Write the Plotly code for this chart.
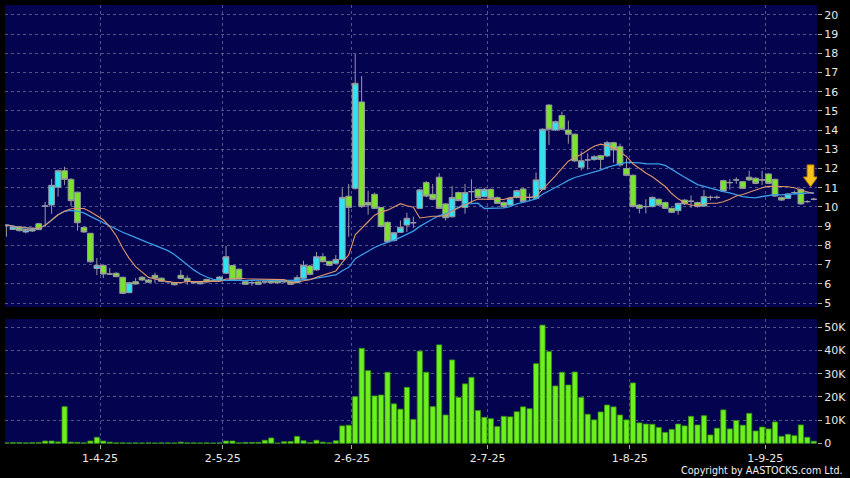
import pandas as pd
import plotly.graph_objects as go

# ---------------- data ----------------
holidays = ["2025-04-04", "2025-04-18", "2025-04-21", "2025-05-01", "2025-05-05", "2025-07-01"]
dates = pd.bdate_range("2025-03-11", "2025-09-10", freq="C", holidays=holidays)

opens = [9.05, 8.83, 8.97, 8.70, 8.75, 9.13, 10.05, 10.10, 11.03, 11.89,
         11.44, 10.77, 8.94, 8.63, 6.80, 6.96, 6.51, 6.55, 6.34, 5.54,
         6.11, 6.34, 6.20, 6.44, 6.29, 6.11, 6.06, 6.44, 6.29, 6.06,
         6.08, 6.23, 6.15, 6.16, 6.55, 6.95, 6.76, 6.11, 6.06, 6.10,
         6.10, 6.15, 6.17, 6.11, 6.11, 6.06, 6.29, 6.93, 6.72, 7.41,
         7.17, 7.07, 7.27, 10.56, 10.97, 15.47, 10.24, 10.66, 9.97, 9.20,
         8.25, 8.68, 9.06, 9.18, 9.93, 11.27, 10.66, 11.55, 10.16, 9.49,
         10.75, 9.98, 10.80, 10.92, 10.54, 10.92, 10.49, 10.24, 10.10, 10.50,
         10.94, 10.50, 10.45, 10.92, 15.31, 14.01, 14.76, 14.01, 13.79, 12.07,
         12.45, 12.48, 12.67, 12.66, 13.35, 13.14, 12.00, 11.65, 10.10, 10.02,
         10.02, 10.40, 10.23, 9.93, 9.81, 10.36, 10.30, 10.23, 10.05, 10.50,
         10.50, 11.37, 11.27, 11.41, 11.32, 11.55, 11.50, 11.41, 11.72, 11.44,
         10.50, 10.45, 10.75, 10.92, 10.28, 10.40]
highs = [9.10, 9.00, 9.00, 8.85, 8.88, 9.18, 10.27, 11.46, 11.95, 12.10,
         11.50, 10.80, 8.96, 8.65, 7.34, 6.98, 6.82, 6.60, 6.36, 6.10,
         6.30, 6.40, 6.25, 6.58, 6.33, 6.15, 6.08, 6.72, 6.44, 6.10,
         6.12, 6.26, 6.20, 6.40, 7.97, 6.98, 6.80, 6.14, 6.20, 6.13,
         6.14, 6.18, 6.20, 6.15, 6.13, 6.45, 7.20, 6.98, 7.66, 7.60,
         7.20, 7.50, 10.97, 11.20, 17.97, 16.82, 10.85, 10.75, 10.00, 9.25,
         8.70, 9.30, 9.70, 9.50, 10.95, 11.35, 11.20, 11.76, 10.20, 11.09,
         10.80, 11.20, 11.44, 10.96, 11.00, 10.96, 10.55, 10.28, 10.50, 10.90,
         10.98, 10.70, 11.80, 14.10, 15.35, 14.50, 14.97, 14.50, 13.83, 12.90,
         12.80, 12.70, 12.72, 13.45, 13.40, 13.30, 12.53, 11.70, 10.15, 10.40,
         10.55, 10.45, 10.28, 9.97, 10.22, 10.40, 10.60, 10.28, 10.89, 10.60,
         10.60, 11.42, 11.45, 11.55, 11.36, 11.89, 11.54, 11.89, 11.76, 11.48,
         10.54, 10.72, 10.85, 10.96, 10.35, 10.48]
lows = [8.45, 8.80, 8.72, 8.62, 8.70, 8.80, 8.95, 9.64, 10.54, 11.15,
        10.05, 8.77, 8.65, 7.10, 6.46, 6.30, 6.48, 6.35, 5.47, 5.50,
        5.95, 6.15, 6.05, 6.05, 6.10, 6.05, 5.92, 6.25, 5.95, 6.00,
        5.97, 6.05, 6.10, 6.12, 6.50, 6.18, 6.22, 5.95, 5.90, 5.95,
        6.05, 6.02, 6.02, 6.05, 5.95, 6.02, 6.25, 6.45, 6.68, 7.12,
        6.92, 7.03, 7.25, 8.45, 10.90, 9.95, 9.60, 9.90, 8.95, 8.15,
        8.20, 8.65, 8.70, 8.90, 9.90, 10.50, 10.35, 9.90, 9.30, 9.45,
        10.30, 9.65, 10.19, 10.45, 10.50, 10.40, 10.15, 9.95, 10.05, 10.45,
        10.25, 10.30, 10.40, 10.88, 13.23, 13.95, 14.00, 13.30, 12.35, 11.90,
        11.95, 12.40, 11.95, 12.60, 12.30, 12.10, 11.60, 9.98, 9.67, 9.67,
        9.98, 10.05, 9.90, 9.68, 9.60, 10.10, 9.95, 9.98, 10.00, 10.35,
        10.40, 10.78, 10.90, 11.20, 10.93, 11.37, 11.19, 11.15, 11.19, 10.53,
        10.32, 10.42, 10.65, 10.12, 10.22, 10.35]
closes = [9.05, 8.97, 8.77, 8.83, 8.83, 8.82, 10.05, 11.13, 11.89, 11.44,
          10.33, 9.18, 8.70, 7.15, 6.96, 6.51, 6.51, 6.37, 5.50, 6.06,
          5.99, 6.20, 6.08, 6.29, 6.13, 6.11, 5.95, 6.28, 6.13, 6.06,
          6.00, 6.09, 6.15, 6.35, 7.41, 6.20, 6.24, 5.97, 6.06, 5.97,
          6.10, 6.05, 6.05, 6.11, 5.97, 6.32, 6.96, 6.49, 7.41, 7.15,
          6.96, 7.27, 10.50, 9.98, 16.44, 10.02, 10.10, 9.93, 8.98, 8.19,
          8.66, 8.94, 9.41, 9.18, 10.89, 10.57, 10.40, 9.93, 9.44, 10.50,
          10.33, 10.75, 10.80, 10.50, 10.92, 10.45, 10.19, 10.02, 10.45, 10.85,
          10.28, 10.50, 11.41, 14.05, 14.05, 14.44, 14.05, 13.79, 12.40, 12.41,
          12.45, 12.62, 12.48, 13.35, 12.97, 12.19, 11.65, 10.02, 9.93, 10.02,
          10.50, 10.10, 9.93, 9.72, 10.19, 10.16, 10.30, 10.02, 10.54, 10.50,
          10.50, 10.83, 11.27, 11.41, 10.97, 11.41, 11.23, 11.41, 11.23, 10.57,
          10.36, 10.68, 10.75, 10.16, 10.28, 10.40]
volumes = [200, 300, 300, 200, 300, 300, 1000, 1000, 600, 15800,
           500, 400, 200, 1000, 2600, 1000, 500, 200, 200, 150,
           200, 150, 200, 150, 200, 200, 150, 500, 200, 200,
           150, 200, 150, 200, 1000, 1000, 200, 400, 400, 400,
           1300, 2300, 100, 700, 800, 3000, 1100, 300, 1300, 500,
           200, 1100, 7500, 7800, 20100, 40900, 31300, 20400, 20800, 30600,
           17000, 14700, 24100, 10300, 39700, 30600, 15800, 42400, 12200, 35900,
           19800, 25600, 28400, 14100, 11200, 10600, 7200, 11600, 11400, 13600,
           15700, 14900, 34300, 50900, 39500, 24700, 30600, 25100, 30700, 19800,
           12500, 10100, 13500, 16500, 15700, 12200, 10100, 26000, 8800, 8300,
           8200, 6800, 4700, 6000, 8300, 7500, 11600, 7900, 11900, 3600,
           6500, 14400, 6200, 9800, 7800, 12900, 5300, 7000, 6200, 9200,
           3000, 3900, 3300, 7900, 2600, 900]
price_ticks = list(range(5, 21))
vol_ticks = [0, 10000, 20000, 30000, 40000, 50000]
vol_tick_text = ["0", "10K", "20K", "30K", "40K", "50K"]

# ---------------- derived ----------------
n = len(dates)
idx = list(range(n))
close_s = pd.Series(closes)
ma_short = close_s.rolling(10, min_periods=1).mean().tolist()
ma_long = close_s.rolling(20, min_periods=1).mean().tolist()

month_pos, month_txt = [], []
prev_m = None
for i, d in enumerate(dates):
    if prev_m is not None and d.month != prev_m:
        month_pos.append(i - 0.5)
        month_txt.append(f"{d.day}-{d.month}-{d.year % 100}")
    prev_m = d.month


def subset(cond):
    sel = [i for i in idx if cond(opens[i], closes[i])]
    return (sel, [opens[i] for i in sel], [highs[i] for i in sel],
            [lows[i] for i in sel], [closes[i] for i in sel])


UP_FILL, DN_FILL, FLAT = "#2fe4f2", "#7be32c", "#a8a8a8"
WICK = "#9a9aa2"

fig = go.Figure()
for cond, fill in [(lambda o, c: c > o, UP_FILL), (lambda o, c: c < o, DN_FILL),
                   (lambda o, c: c == o, FLAT)]:
    x, o, h, l, c = subset(cond)
    fig.add_trace(go.Candlestick(
        x=x, open=o, high=h, low=l, close=c, xaxis="x", yaxis="y",
        increasing=dict(fillcolor=fill, line=dict(color=WICK, width=1)),
        decreasing=dict(fillcolor=fill, line=dict(color=WICK, width=1)),
        whiskerwidth=0, showlegend=False, hoverinfo="skip"))

fig.add_trace(go.Scatter(x=idx, y=ma_long, mode="lines", xaxis="x", yaxis="y",
                         line=dict(color="#3b9ee6", width=1.3), showlegend=False,
                         hoverinfo="skip"))
fig.add_trace(go.Scatter(x=idx, y=ma_short, mode="lines", xaxis="x", yaxis="y",
                         line=dict(color="#e0956a", width=1.1), showlegend=False,
                         hoverinfo="skip"))

fig.add_trace(go.Bar(x=idx, y=volumes, xaxis="x", yaxis="y2", width=0.8,
                     marker=dict(color="#6cf11e", line=dict(color="#3a8f12", width=0.8)),
                     showlegend=False, hoverinfo="skip"))

# arrow marker over the latest candles
ax = n - 1.5
tip = highs[-3] + 0.1
arrow_path = (f"M {ax-0.52},{tip+1.13} L {ax+0.52},{tip+1.13} L {ax+0.52},{tip+0.5} "
              f"L {ax+1.08},{tip+0.5} L {ax},{tip} L {ax-1.08},{tip+0.5} "
              f"L {ax-0.52},{tip+0.5} Z")
fig.add_shape(type="path", path=arrow_path, xref="x", yref="y",
              fillcolor="#f7c21a", line=dict(color="#c98a00", width=1))

grid = dict(showgrid=True, gridcolor="rgba(150,150,185,0.55)", griddash="3px,3px",
            gridwidth=1, zeroline=False, showline=False)
tickfont = dict(family="DejaVu Sans", size=11, color="#e8e8e8")

fig.update_layout(
    width=850, height=478,
    margin=dict(l=5, r=33, t=5, b=34),
    paper_bgcolor="#000000", plot_bgcolor="#03034f",
    boxgap=0.12, boxgroupgap=0, boxmode="overlay",
    bargap=0.2, hovermode=False,
    xaxis=dict(range=[-0.22, n - 0.5], anchor="y2", tickvals=month_pos, ticktext=month_txt,
               ticks="outside", ticklen=4, tickcolor="#aaaaaa", tickfont=tickfont,
               rangeslider=dict(visible=False), **grid),
    yaxis=dict(domain=[0.312, 1], range=[4.79, 20.52], side="right", tickvals=price_ticks,
               ticks="outside", ticklen=4, tickcolor="#aaaaaa", tickfont=tickfont, **grid),
    yaxis2=dict(domain=[0, 0.285], range=[-300, 53580], side="right", tickvals=vol_ticks,
                ticktext=vol_tick_text, ticks="outside", ticklen=4, tickcolor="#aaaaaa",
                tickfont=tickfont, **grid),
    annotations=[dict(text="Copyright by AASTOCKS.com Ltd.", xref="paper", yref="paper",
                      x=1.035, y=-0.06, xanchor="right", yanchor="middle", showarrow=False,
                      font=dict(family="DejaVu Sans", size=9.6, color="#f0f0f0"))],
)

fig.write_html("out.html", config={"displayModeBar": False, "staticPlot": True},
               post_script="document.body.style.margin='0';document.body.style.background='#000';")
